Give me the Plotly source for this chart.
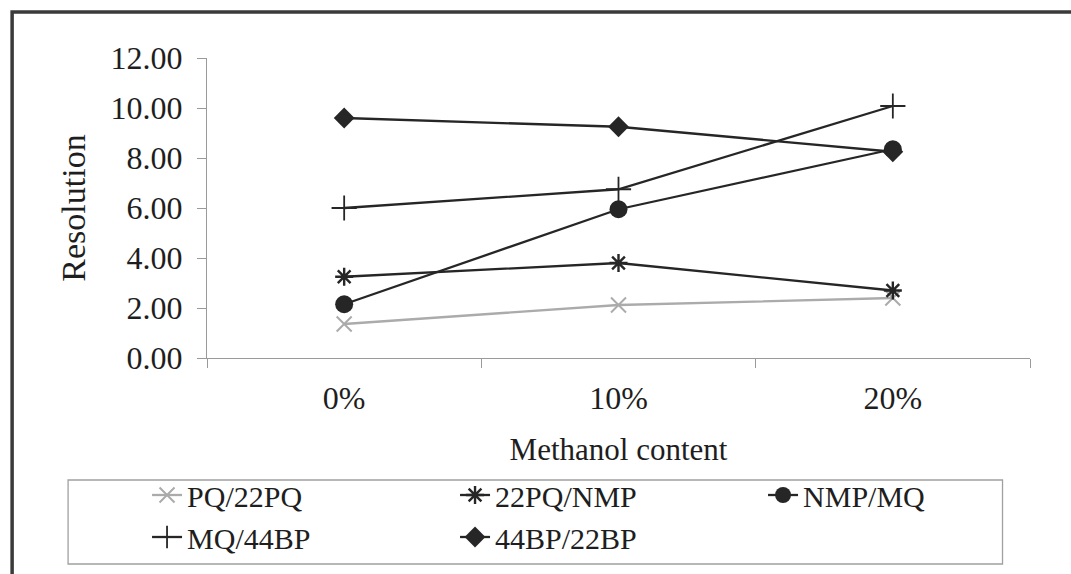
import plotly.graph_objects as go

# Methanol content categories and resolution values for each peak pair
categories = ["0%", "10%", "20%"]
pq_22pq = [1.36, 2.12, 2.40]
pq22_nmp = [3.25, 3.80, 2.70]
nmp_mq = [2.15, 5.95, 8.35]
mq_44bp = [6.00, 6.75, 10.08]
bp44_22bp = [9.60, 9.25, 8.25]

y_ticks = [0, 2, 4, 6, 8, 10, 12]

FONT = "Liberation Serif, Times New Roman, serif"
DARK = "#262626"
LIGHT = "#ababab"
AXIS = "#9a9a9a"

# plot area in pixels
W, H = 1071, 574
L, R, T, B = 207, 40.5, 58, 216
PW, PH = W - L - R, H - T - B


def px_x(px):
    return (px - L) / PW


def px_y(py):
    return (H - B - py) / PH


series = [
    ("PQ/22PQ", pq_22pq, LIGHT, dict(symbol="x-thin-open", size=15, line=dict(width=2, color=LIGHT))),
    ("22PQ/NMP", pq22_nmp, DARK, dict(symbol="asterisk-open", size=15, line=dict(width=2.4, color=DARK))),
    ("NMP/MQ", nmp_mq, DARK, dict(symbol="circle", size=18, color=DARK)),
    ("MQ/44BP", mq_44bp, DARK, dict(symbol="cross-thin-open", size=18, line=dict(width=1.8, color=DARK))),
    ("44BP/22BP", bp44_22bp, DARK, dict(symbol="diamond", size=16, color=DARK)),
]

fig = go.Figure()
for name, vals, col, mk in series:
    fig.add_trace(go.Scatter(
        x=categories, y=vals, name=name, mode="lines+markers",
        line=dict(color=col, width=2.3), marker=mk,
    ))

fig.update_layout(
    width=W, height=H,
    margin=dict(l=L, r=R, t=T, b=B, autoexpand=False),
    paper_bgcolor="white", plot_bgcolor="white",
    font=dict(family=FONT, color="#1e1e1e", size=30),
    showlegend=True,
    legend=dict(
        orientation="h", x=px_x(147), y=px_y(469), xanchor="left", yanchor="top",
        xref="paper", yref="paper",
        entrywidth=263, entrywidthmode="pixels",
        font=dict(family=FONT, size=30, color="#1e1e1e"),
        bgcolor="rgba(0,0,0,0)", borderwidth=0,
        itemclick=False, itemdoubleclick=False, traceorder="normal",
    ),
    xaxis=dict(
        type="category", range=[-0.5, 2.5],
        showline=True, linecolor=AXIS, linewidth=1.3,
        ticks="outside", tickson="boundaries", ticklen=9, tickcolor=AXIS, tickwidth=1.3,
        showgrid=False, zeroline=False,
        tickfont=dict(family=FONT, size=32),
        ticklabelstandoff=11,
        title=dict(text="Methanol content", font=dict(family=FONT, size=31), standoff=23),
    ),
    yaxis=dict(
        range=[0, 12], tickvals=y_ticks, tickformat=".2f",
        showline=True, linecolor=AXIS, linewidth=1.3,
        ticks="outside", ticklen=9, tickcolor=AXIS, tickwidth=1.3,
        showgrid=False, zeroline=False,
        tickfont=dict(family=FONT, size=32),
        ticklabelstandoff=8,
        title=dict(text="Resolution", font=dict(family=FONT, size=34), standoff=14),
    ),
    shapes=[
        # outer chart frame
        dict(type="rect", xref="paper", yref="paper",
             x0=px_x(12), x1=px_x(1110), y0=px_y(620), y1=px_y(12),
             line=dict(color="#3a3a3a", width=3.5), fillcolor="rgba(0,0,0,0)", layer="below"),
        # legend frame
        dict(type="rect", xref="paper", yref="paper",
             x0=px_x(68), x1=px_x(1003), y0=px_y(564), y1=px_y(480),
             line=dict(color="#a0a0a0", width=1.3), fillcolor="rgba(0,0,0,0)", layer="below"),
    ],
)

fig.write_html("out.html")
